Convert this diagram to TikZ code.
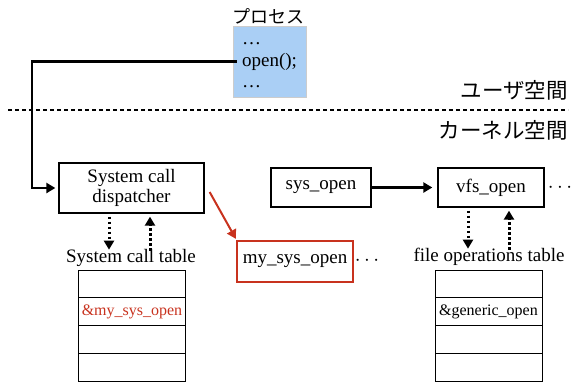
\documentclass[tikz,border=0pt]{standalone}
\usepackage{fontspec}
\setmainfont{Liberation Serif}
\newfontfamily\jpfont{Noto Sans CJK JP}
\usetikzlibrary{arrows.meta,calc}
\definecolor{procblue}{RGB}{170,207,245}
\definecolor{myred}{RGB}{200,50,30}
\begin{document}
\begin{tikzpicture}[x=1pt,y=-1pt,
  box/.style={draw,line width=1.3pt,inner sep=0pt,align=center,font=\fontsize{19}{20}\selectfont},
  lbl/.style={inner sep=0pt,font=\fontsize{19}{20}\selectfont},
  cell/.style={draw,line width=1pt,minimum width=107pt,minimum height=27.75pt,inner sep=0pt,font=\fontsize{16}{17}\selectfont},
  jp/.style={inner sep=0pt,font=\jpfont\fontsize{21.5}{23}\selectfont},
  mainarr/.style={line width=2.5pt,-{Triangle[length=9pt,width=10pt]}},
  redarr/.style={line width=2pt,draw=myred,-{Triangle[length=9pt,width=10pt]}},
  dotarr/.style={line width=3pt,dash pattern=on 2.5pt off 2.5pt,-{Triangle[length=9pt,width=10pt]}},
  dots/.style={inner sep=0pt,font=\fontsize{22}{22}\selectfont}]
\useasboundingbox (0,0) rectangle (574,383);

% process
\node[draw=black!20,line width=0.5pt,fill=procblue,minimum width=73pt,minimum height=71pt,inner sep=0pt] (proc) at (269.5,61.5) {};
\node[inner sep=0pt,align=left,font=\fontsize{19}{21.5}\selectfont] (proctext) at ($(proc.center)+(0,4)$) {\dots\\open();\\\dots};
\node[jp,font=\jpfont\fontsize{18}{20}\selectfont] (proclbl) at (268,16) {プロセス};

% separator
\coordinate (sepL) at (8,110);
\coordinate (sepR) at (568,110);
\draw[line width=1.3pt,dash pattern=on 4pt off 3pt] (sepL) -- (sepR);
\node[jp,anchor=east] (user) at (568,90) {ユーザ空間};
\node[jp,anchor=east] (kern) at (568,130) {カーネル空間};

% dispatcher
\node[box,minimum width=145pt,minimum height=50pt] (disp) at (131.5,188) {System call\\dispatcher};
\coordinate (corner) at (32,61.5);
\draw[mainarr] ($(proc.west)+(4,0)$) -- (corner) |- ($(disp.west)+(-3,0)$);

% system call table
\node[lbl] (stlbl) at (131,258) {System call table};
\draw[dotarr] ($(disp.south)+(-22.5,3)$) -- ($(disp.south)+(-22.5,36)$);
\draw[dotarr] ($(disp.south)+(18.5,37)$) -- ($(disp.south)+(18.5,3)$);
\node[cell] (s1) at (132,284) {};
\node[cell,text=myred] (s2) at (132,311.75) {\&my\_sys\_open};
\node[cell] (s3) at (132,339.5) {};
\node[cell] (s4) at (132,367.25) {};

% my_sys_open
\node[box,draw=myred,minimum width=116pt,minimum height=41pt] (mysys) at (295,261.5) {my\_sys\_open};
\draw[redarr] ($(disp.east)+(5,4)$) -- ($(mysys.north west)+(-0.5,-1.5)$);
\node[dots] (dots1) at (367,261) {$\cdots$};

% sys_open, vfs_open
\node[box,minimum width=100pt,minimum height=39pt] (sysopen) at (321,187.5) {sys\_open};
\node[box,minimum width=106pt,minimum height=39pt] (vfsopen) at (491,187.5) {vfs\_open};
\draw[mainarr,shorten >=5pt] (sysopen.east) -- (vfsopen.west);
\node[dots] (dots2) at (560,188) {$\cdots$};

% file operations table
\node[lbl] (folbl) at (489,257) {file operations table};
\draw[dotarr] ($(vfsopen.south)+(-23,3)$) -- ($(vfsopen.south)+(-23,41)$);
\draw[dotarr] ($(vfsopen.south)+(18,42)$) -- ($(vfsopen.south)+(18,3)$);
\node[cell] (f1) at (488.5,284) {};
\node[cell] (f2) at (488.5,311.75) {\&generic\_open};
\node[cell] (f3) at (488.5,339.5) {};
\node[cell] (f4) at (488.5,367.25) {};
\end{tikzpicture}
\end{document}
